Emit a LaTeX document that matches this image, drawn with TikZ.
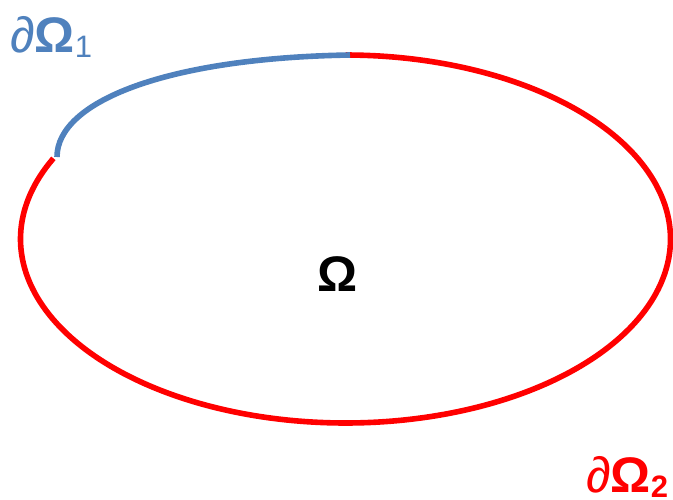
\documentclass[tikz,border=0pt]{standalone}
\usepackage{fontspec}
\setmainfont{Liberation Sans}
\definecolor{oblue}{RGB}{79,129,189}
\definecolor{bred}{RGB}{255,0,0}
\newcommand{\bigfont}{\fontsize{50}{60}\selectfont}
\newcommand{\subfont}{\fontsize{31}{36}\selectfont}
\begin{document}
\begin{tikzpicture}[x=1pt,y=-1pt,
  edge/.style={line width=5.6pt},
  lbl/.style={inner sep=0pt, font=\bigfont}]
\useasboundingbox (0,0) rectangle (673,499);
\coordinate (top) at (350,55);
\coordinate (junc) at (57,157);
\draw[edge, bred] plot[domain=90:-206, samples=200, smooth] ({345.5+325*cos(\x)}, {239-184*sin(\x)});
\draw[edge, oblue] (junc) .. controls (57,102) and (165,58) .. (top);
\node[lbl, anchor=base west, text=oblue] (d1) at (10,52) {∂\textbf{Ω}\raisebox{-5pt}{\subfont 1}};
\node[lbl, anchor=base west, text=bred] (d2) at (586,492) {∂\textbf{Ω}\raisebox{-5pt}{\subfont\bfseries 2}};
\node[lbl, anchor=base] (om) at (338,291) {\textbf{Ω}};
\end{tikzpicture}
\end{document}
